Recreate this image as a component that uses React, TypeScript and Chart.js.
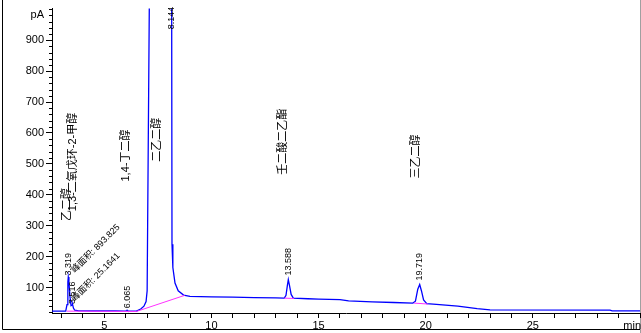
import React, { useEffect, useRef } from 'react';
import { Chart, registerables } from 'chart.js';

Chart.register(...registerables);

// ---- Data ----
const traceTimes = [
  2.56, 3.2, 3.26, 3.3, 3.32, 3.35, 3.4, 3.45, 3.5, 3.52, 3.56, 3.62, 3.8, 4.5, 5.0, 5.5,
  6.0, 6.05, 6.065, 6.09, 6.3, 6.5, 6.7, 6.85, 6.95, 7.0, 7.1, 7.3, 8.1, 8.145, 8.16, 8.2,
  8.3, 8.45, 8.7, 9.0, 10.0, 11.0, 12.0, 13.0, 13.4, 13.48, 13.54, 13.588, 13.64, 13.72,
  13.82, 14.5, 15.0, 16.0, 16.4, 17.5, 18.5, 19.4, 19.52, 19.63, 19.719, 19.8, 19.9, 20.05,
  20.5, 21.5, 22.4, 23.0, 28.6, 28.7, 30.0,
];
const traceSignal = [
  24, 24, 45, 118, 134, 118, 70, 42, 44, 46, 34, 27, 25, 24.5, 25, 24.5,
  24, 26, 27, 25, 24, 24, 31, 40, 55, 90, 1002, 3000, 3000, 1002, 240, 165,
  115, 90, 76, 72, 70, 69, 68, 67, 66, 75, 105, 126, 108, 78,
  66, 64, 63, 61, 57, 54, 52, 50, 56, 95, 110, 90, 60, 48,
  46, 40, 32, 28, 27.5, 25, 25,
];

const baseA_t = [3.25, 6.5, 8.75];
const baseA_v = [24, 23, 75];
const baseB_t = [13.4, 13.85];
const baseB_v = [66, 65];
const baseC_t = [19.45, 20.1];
const baseC_v = [50, 47];

const peakTimes = [3.319, 3.516, 6.065, 8.144, 13.588, 19.719];
const peakLabelValues = [139, 47, 33, 935, 139, 123];

const compoundNames = ['乙二醇', '1,3-二氧戊环-2-甲醇', '1,4-丁二醇', '二乙二醇', '壬二酸二乙酯', '三乙二醇'];
const compoundTimes = [3.26, 3.55, 6.01, 7.47, 13.32, 19.56];
const compoundValues = [315, 347, 443, 507, 465, 453];

const areaTexts = ['峰面积: 893.825', '峰面积: 25.1641'];
const areaTimes = [3.54, 3.54];
const areaValues = [152, 60];

const xTickValues = Array.from({ length: 28 }, (_, i) => i + 3);
const yMajorTicks = [100, 200, 300, 400, 500, 600, 700, 800, 900];

const FONT = '"Liberation Sans", Arial, "Noto Sans CJK SC", sans-serif';

const toPts = (t: number[], v: number[]) => t.map((x, i) => ({ x, y: v[i] }));

const overlay = {
  id: 'overlay',
  beforeDraw(chart: any) {
    const ctx = chart.ctx;
    ctx.save();
    ctx.strokeStyle = '#000';
    ctx.lineWidth = 1;
    ctx.beginPath();
    ctx.moveTo(2.5, 0);
    ctx.lineTo(2.5, 329.5);
    ctx.lineTo(640, 329.5);
    ctx.stroke();
    ctx.strokeStyle = '#a0a0a0';
    ctx.beginPath();
    ctx.moveTo(640.5, 0);
    ctx.lineTo(640.5, 333);
    ctx.stroke();
    ctx.restore();
  },
  afterDraw(chart: any) {
    const { ctx, scales } = chart;
    const x = scales.x;
    const y = scales.y;
    ctx.save();
    // minor y ticks
    ctx.strokeStyle = '#000';
    ctx.lineWidth = 1;
    ctx.beginPath();
    for (let v = 20; v <= 1000; v += 20) {
      if (v % 100 === 0 && v >= 100 && v <= 900) continue;
      const py = Math.round(y.getPixelForValue(v)) + 0.5;
      ctx.moveTo(x.left - 3, py);
      ctx.lineTo(x.left, py);
    }
    ctx.stroke();
    // units
    ctx.fillStyle = '#000';
    ctx.font = `11px ${FONT}`;
    ctx.textAlign = 'right';
    ctx.textBaseline = 'middle';
    ctx.fillText('pA', x.left - 8, y.getPixelForValue(980));
    ctx.fillText('min', 641, 326);

    // compound names (vertical)
    ctx.font = `11px ${FONT}`;
    ctx.textAlign = 'left';
    ctx.textBaseline = 'middle';
    compoundNames.forEach((name, i) => {
      ctx.save();
      ctx.translate(x.getPixelForValue(compoundTimes[i]), y.getPixelForValue(compoundValues[i]));
      ctx.rotate(-Math.PI / 2);
      ctx.fillText(name, 0, 0);
      ctx.restore();
    });

    // peak retention time labels
    ctx.font = `9px ${FONT}`;
    peakTimes.forEach((t, i) => {
      ctx.save();
      ctx.translate(x.getPixelForValue(t), y.getPixelForValue(peakLabelValues[i]));
      ctx.rotate(-Math.PI / 2);
      ctx.fillText(t.toFixed(3), 0, 0);
      ctx.restore();
    });

    // area labels (diagonal)
    ctx.font = `9px ${FONT}`;
    areaTexts.forEach((txt, i) => {
      ctx.save();
      ctx.translate(x.getPixelForValue(areaTimes[i]), y.getPixelForValue(areaValues[i]));
      ctx.rotate(-Math.PI / 4);
      ctx.fillText(txt, 0, 0);
      ctx.restore();
    });
    ctx.restore();
  },
};

export default function App() {
  const ref = useRef<HTMLCanvasElement>(null);
  useEffect(() => {
    if (!ref.current) return;
    const base = { borderColor: '#ff30ff', borderWidth: 1, pointRadius: 0, tension: 0, fill: false };
    const chart = new Chart(ref.current, {
      type: 'line',
      data: {
        datasets: [
          { ...base, data: toPts(baseA_t, baseA_v) },
          { ...base, data: toPts(baseB_t, baseB_v) },
          { ...base, data: toPts(baseC_t, baseC_v) },
          {
            data: toPts(traceTimes, traceSignal),
            borderColor: '#0000ff',
            borderWidth: 1.3,
            pointRadius: 0,
            tension: 0,
            fill: false,
          },
        ],
      },
      options: {
        responsive: false,
        animation: false,
        layout: { padding: { left: 0, right: 0, top: 5, bottom: 0 } },
        plugins: { legend: { display: false }, tooltip: { enabled: false } },
        scales: {
          x: {
            type: 'linear',
            min: 2.56,
            max: 30.0,
            afterBuildTicks: (s: any) => {
              s.ticks = xTickValues.map((v) => ({ value: v }));
            },
            afterFit: (s: any) => {
              s.height = 20;
            },
            ticks: {
              autoSkip: false,
              maxRotation: 0,
              padding: 1,
              color: '#000',
              font: { family: FONT, size: 11 },
              callback: (v: any) => (Number(v) % 5 === 0 && Number(v) < 30 ? String(v) : ''),
            },
            grid: { display: true, drawOnChartArea: false, drawTicks: true, tickLength: 5, color: '#000' },
            border: { display: true, color: '#000' },
          },
          y: {
            type: 'linear',
            min: 18,
            max: 1002,
            afterBuildTicks: (s: any) => {
              s.ticks = yMajorTicks.map((v) => ({ value: v }));
            },
            afterFit: (s: any) => {
              s.width = 52;
            },
            ticks: {
              padding: 2,
              color: '#000',
              font: { family: FONT, size: 11 },
            },
            grid: { display: true, drawOnChartArea: false, drawTicks: true, tickLength: 6, color: '#000' },
            border: { display: true, color: '#000' },
          },
        },
      },
      plugins: [overlay],
    } as any);
    return () => chart.destroy();
  }, []);
  return (
    <div style={{ position: 'fixed', left: 0, top: 0, width: 641, height: 333, background: '#fff' }}>
      <canvas ref={ref} width={641} height={333} />
    </div>
  );
}
